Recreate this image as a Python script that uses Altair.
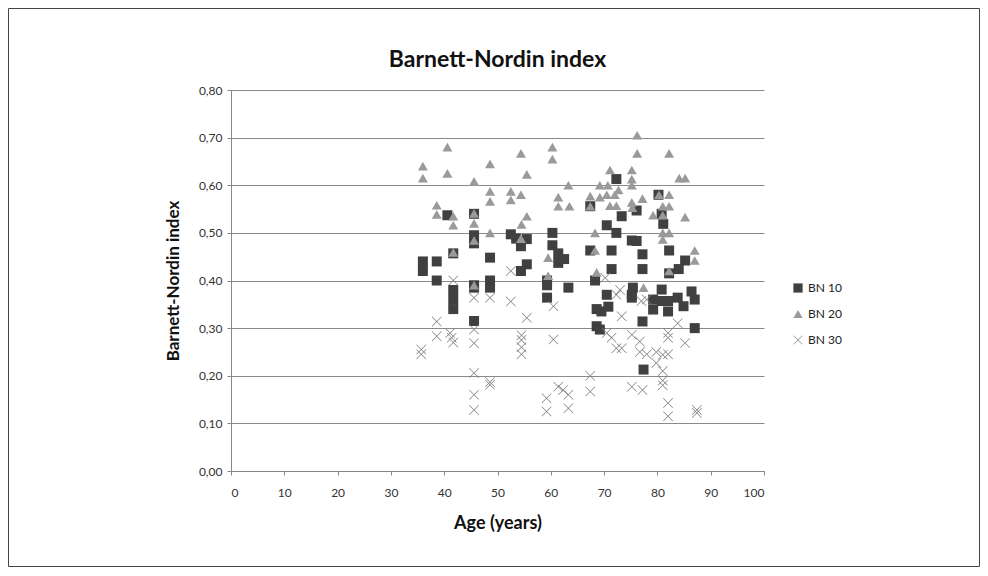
import altair as alt
import pandas as pd

# ---- data ----
bn10_age = [36, 36, 38.6, 38.6, 40.6, 41.7, 41.7, 41.7, 41.7,
            45.6, 45.6, 45.6, 45.6, 45.6, 45.6,
            48.6, 48.6, 48.6,
            52.5, 53.5, 54.4, 55.5, 55.5, 54.4,
            59.3, 59.3, 59.3, 60.3, 60.3, 61.4, 62.5, 61.4, 63.3,
            67.4, 67.4, 68.3, 68.6, 69.5, 70.8, 68.6, 69.2,
            70.5, 70.5, 71.4, 71.4, 72.3, 72.3, 73.3,
            75.2, 75.2, 75.4, 75.2, 76.1, 76.1, 77.2, 77.2, 77.2, 77.4,
            79.2, 79.2, 80.2, 80.8, 80.8, 80.8, 81.1,
            82.2, 82.2, 82.0, 82.0, 83.8, 84.0, 84.9, 85.2, 86.4, 87.0, 87.0]
bn10_val = [0.44, 0.42, 0.44, 0.40, 0.537, 0.457, 0.38, 0.36, 0.34,
            0.54, 0.495, 0.478, 0.39, 0.385, 0.315,
            0.448, 0.40, 0.385,
            0.497, 0.488, 0.472, 0.487, 0.434, 0.42,
            0.40, 0.39, 0.364, 0.50, 0.474, 0.457, 0.445, 0.437, 0.385,
            0.463, 0.556, 0.40, 0.34, 0.335, 0.345, 0.304, 0.297,
            0.516, 0.37, 0.463, 0.424, 0.613, 0.50, 0.535,
            0.484, 0.37, 0.385, 0.364, 0.547, 0.483, 0.455, 0.424, 0.314, 0.213,
            0.36, 0.339, 0.58, 0.54, 0.381, 0.357, 0.519,
            0.463, 0.415, 0.357, 0.335, 0.364, 0.424, 0.346, 0.442, 0.377, 0.36, 0.30]

bn20_age = [36, 36, 38.6, 38.6, 40.6, 40.6, 41.7, 41.7, 41.7,
            45.6, 45.6, 45.6, 45.6, 45.6,
            48.6, 48.6, 48.6, 48.6,
            52.5, 52.5, 54.4, 54.4, 54.5, 54.4, 55.5, 55.5,
            59.5, 59.5, 60.3, 60.3, 61.4, 61.4, 63.3, 63.5,
            67.4, 67.4, 68.3, 68.3, 68.6, 69.2, 69.2, 70.7, 70.5,
            71.1, 71.1, 72.0, 72.3, 72.7,
            75.2, 75.2, 75.2, 75.2, 75.3, 76.2, 76.2, 77.2, 77.4,
            79.2, 80.3, 81.0, 81.0, 81.0, 81.0, 82.2, 82.2, 82.2, 82.2, 82.2,
            84.1, 85.2, 85.2, 87.0, 87.0]
bn20_val = [0.64, 0.615, 0.558, 0.539, 0.68, 0.625, 0.535, 0.516, 0.459,
            0.608, 0.541, 0.52, 0.484, 0.39,
            0.645, 0.587, 0.566, 0.50,
            0.587, 0.569, 0.667, 0.58, 0.518, 0.488, 0.623, 0.535,
            0.448, 0.41, 0.68, 0.655, 0.575, 0.556, 0.60, 0.556,
            0.577, 0.556, 0.50, 0.463, 0.417, 0.60, 0.575, 0.60, 0.58,
            0.632, 0.557, 0.58, 0.557, 0.59,
            0.632, 0.613, 0.60, 0.564, 0.553, 0.705, 0.667, 0.572, 0.385,
            0.537, 0.58, 0.556, 0.537, 0.50, 0.486, 0.667, 0.58, 0.556, 0.50, 0.42,
            0.615, 0.615, 0.533, 0.463, 0.442]

bn30_age = [35.7, 35.7, 38.6, 38.6, 41.1, 41.4, 41.7, 41.7,
            45.6, 45.6, 45.6, 45.6, 45.6, 45.6,
            48.6, 48.6, 48.6,
            52.5, 52.5, 54.5, 54.5, 54.5, 54.5, 55.5,
            59.2, 59.2, 60.5, 60.5, 61.4, 62.3, 63.3, 63.3,
            67.4, 67.4, 70.2, 70.5, 71.4, 72.3, 72.3, 73.3, 73.3, 73.0,
            75.2, 75.2, 76.7, 76.7, 77.0, 77.2, 78.0, 78.0,
            79.8, 79.8, 81.0, 81.0, 81.0, 81.0, 82.0, 82.0, 82.0, 82.0, 82.0,
            83.8, 85.2, 87.4, 87.4]
bn30_val = [0.255, 0.245, 0.314, 0.283, 0.29, 0.28, 0.27, 0.40,
            0.364, 0.297, 0.268, 0.206, 0.16, 0.128,
            0.364, 0.187, 0.181,
            0.356, 0.42, 0.285, 0.275, 0.26, 0.245, 0.322,
            0.153, 0.125, 0.346, 0.276, 0.177, 0.17, 0.16, 0.132,
            0.20, 0.167, 0.406, 0.29, 0.28, 0.37, 0.258, 0.325, 0.258, 0.38,
            0.286, 0.177, 0.272, 0.25, 0.357, 0.17, 0.36, 0.245,
            0.227, 0.25, 0.21, 0.19, 0.18, 0.244, 0.29, 0.28, 0.143, 0.115, 0.245,
            0.31, 0.269, 0.128, 0.122]

series_names = ["BN 10", "BN 20", "BN 30"]
series_colors = ["#404040", "#9a9a9a", "#808080"]
x_ticks = [0, 10, 20, 30, 40, 50, 60, 70, 80, 90, 100]
y_ticks = [0.0, 0.1, 0.2, 0.3, 0.4, 0.5, 0.6, 0.7, 0.8]
chart_title = ["Barnett-Nordin index"]

rows = []
for name, ages, vals in zip(series_names, [bn10_age, bn20_age, bn30_age],
                            [bn10_val, bn20_val, bn30_val]):
    for a, v in zip(ages, vals):
        rows.append({"series": name, "age": a, "bn": v})
df = pd.DataFrame(rows)

FONT = "Lato"
W, H = 533, 381
# frame around the whole picture, relative to the plot area
FR_L, FR_T, FR_R, FR_B = -223, -82, W + 216, H + 96

# thin filled "x" glyph
X_PATH = ("M-1,-0.9L-0.9,-1L0,-0.1L0.9,-1L1,-0.9L0.1,0L1,0.9L0.9,1"
          "L0,0.1L-0.9,1L-1,0.9L-0.1,0Z")

x_enc = alt.X("age:Q",
              scale=alt.Scale(domain=[0, 100], nice=False, zero=True),
              axis=alt.Axis(values=x_ticks, title="Age (years)", grid=False,
                            tickSize=4, labelPadding=12, titlePadding=16,
                            titleFontSize=18, titleFont=FONT, titleFontWeight="bold",
                            titleColor="#111", labelFont=FONT, labelFontSize=12,
                            labelColor="#333", domainColor="#888", tickColor="#888"))
y_enc = alt.Y("bn:Q",
              scale=alt.Scale(domain=[0, 0.8], nice=False),
              axis=alt.Axis(values=y_ticks, title="Barnett-Nordin index",
                            labelExpr="replace(format(datum.value, '.2f'), '.', ',')",
                            grid=True, gridColor="#8a8a8a", gridWidth=1,
                            tickSize=4, labelPadding=5, titlePadding=16,
                            titleFontSize=17, titleFont=FONT, titleFontWeight="bold",
                            titleColor="#111", labelFont=FONT, labelFontSize=12,
                            labelColor="#333", domainColor="#888", tickColor="#888"))

legend = alt.Legend(title=None, orient="none", legendX=561, legendY=192,
                    labelFont=FONT, labelFontSize=12, labelColor="#222",
                    rowPadding=14, symbolSize=85)

points = alt.Chart(df).mark_point(filled=True, opacity=1, size=100).encode(
    x=x_enc,
    y=y_enc,
    color=alt.Color("series:N", scale=alt.Scale(domain=series_names,
                                                 range=series_colors),
                    legend=legend),
    shape=alt.Shape("series:N", scale=alt.Scale(
        domain=series_names, range=["square", "triangle-up", X_PATH]),
        legend=legend),
)

title_text = alt.Chart(pd.DataFrame({"t": chart_title})).mark_text(
    font=FONT, fontSize=23, fontWeight="bold", color="#111",
    align="center", baseline="middle",
).encode(x=alt.value(W / 2), y=alt.value(-30), text="t:N")

frame = alt.Chart(pd.DataFrame({"k": [0]})).mark_rect(
    filled=False, stroke="#444", strokeWidth=1,
).encode(x=alt.value(FR_L + 0.5), x2=alt.value(FR_R - 0.5),
         y=alt.value(FR_T + 0.5), y2=alt.value(FR_B - 0.5))

chart = alt.layer(points, title_text, frame).properties(
    width=W, height=H,
    padding=0,
    background="white",
).configure_view(stroke=None)

chart.save("out.html", embed_options={"renderer": "svg", "actions": False})
